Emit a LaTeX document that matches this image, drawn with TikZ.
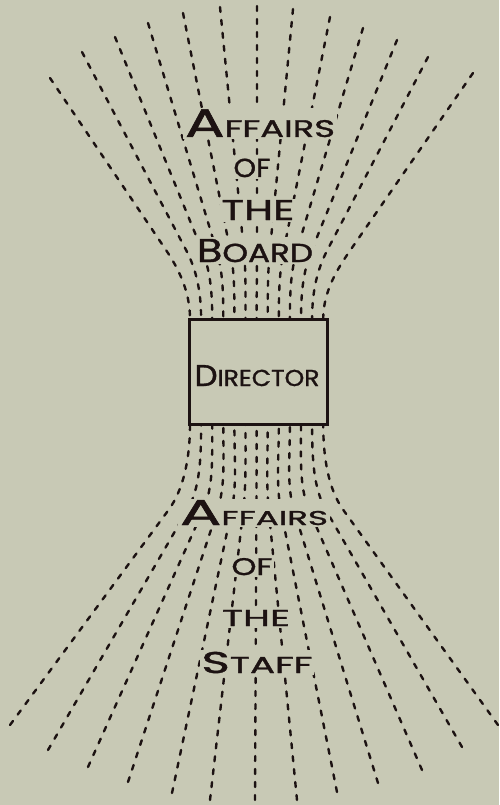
\documentclass[tikz,border=0pt]{standalone}
\usepackage{fontspec}
\usepackage{graphicx}
\usetikzlibrary{calc}
\newfontfamily\letterfont[FakeBold=1.2]{Poppins}
\definecolor{paper}{RGB}{200,201,181}
\definecolor{ink}{RGB}{28,18,18}
\newcommand{\Lt}[2]{{\fontsize{#1}{#1}\selectfont #2}}
\tikzset{
  fanline/.style={draw=ink, line width=2.4pt, dash pattern=on 5pt off 8pt, line cap=round},
  word/.style={anchor=base, inner sep=1.5pt, fill=paper, text=ink, font=\letterfont},
  dirbox/.style={draw=ink, line width=3pt, fill=paper}
}
\begin{document}
\begin{tikzpicture}[x=1pt,y=-1pt]
\useasboundingbox (0,0) rectangle (499,805);
\fill[paper] (0,0) rectangle (499,805);
\coordinate (C1) at (257,385);
\coordinate (C2) at (257,390);
% upper fan
\foreach \i/\tx/\ty in {0/50/78, 1/82/52, 2/115/37, 3/148/23, 4/183/13, 5/220/7, 6/257/6, 7/293/9, 8/330/17, 9/363/28, 10/397/40, 11/428/57, 12/473/73} {
  \pgfmathsetmacro\xb{190+\i*11.1}
  \pgfmathsetmacro\kk{(250-\ty)/(385-\ty)}
  \coordinate (ut\i) at (\tx,\ty);
  \coordinate (us\i) at ($(ut\i)!\kk!(C1)$);
  \coordinate (ub\i) at (\xb,319);
  \draw[fanline] (ut\i) -- (us\i) .. controls ($(us\i)!22pt!(C1)$) and ($(ub\i)+(0,-28)$) .. (ub\i);
}
% lower fan
\foreach \i/\tx/\ty in {0/10/725, 1/48/750, 2/88/767, 3/128/782, 4/172/793, 5/210/800, 6/255/800, 7/297/800, 8/337/792, 9/378/783, 10/422/770, 11/462/747, 12/498/725} {
  \pgfmathsetmacro\xb{190+\i*11.1}
  \pgfmathsetmacro\kk{(\ty-510)/(\ty-390)}
  \coordinate (lt\i) at (\tx,\ty);
  \coordinate (ls\i) at ($(lt\i)!\kk!(C2)$);
  \coordinate (lb\i) at (\xb,424);
  \draw[fanline] (lt\i) -- (ls\i) .. controls ($(ls\i)!25pt!(C2)$) and ($(lb\i)+(0,35)$) .. (lb\i);
}
% director box
\draw[dirbox] (189,319) rectangle (327,424);
\node[word, fill=none] (dir) at (257,386) {\resizebox{125pt}{\height}{\Lt{30}{D}\Lt{23}{IRECTOR}}};
% upper words
\node[word] (ua) at (260,137) {\resizebox{150pt}{\height}{\Lt{40}{A}\Lt{24}{FFAIRS}}};
\node[word] (uo) at (252,177) {\resizebox{37pt}{\height}{\Lt{26}{OF}}};
\node[word] (ut) at (258,220) {\resizebox{73pt}{\height}{\Lt{28.5}{THE}}};
\node[word] (ub) at (255,262) {\resizebox{116pt}{\height}{\Lt{33}{B}\Lt{26}{OARD}}};
% lower words
\node[word] (la) at (254,525) {\resizebox{148pt}{\height}{\Lt{36}{A}\Lt{20}{FFAIRS}}};
\node[word] (lo) at (252,575) {\resizebox{41pt}{\height}{\Lt{24}{OF}}};
\node[word] (lth) at (256,626) {\resizebox{68pt}{\height}{\Lt{23}{THE}}};
\node[word] (ls) at (257,673) {\resizebox{111pt}{\height}{\Lt{30}{S}\Lt{23}{TAFF}}};
\end{tikzpicture}
\end{document}
